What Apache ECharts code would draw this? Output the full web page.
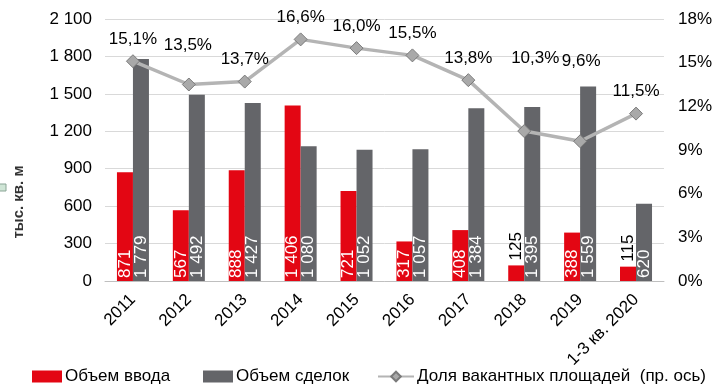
<!DOCTYPE html>
<html><head><meta charset="utf-8">
<script src="https://cdn.jsdelivr.net/npm/echarts@6/dist/echarts.min.js"></script>
<style>html,body{margin:0;padding:0;background:#fff}#c{width:715px;height:386px}</style>
</head><body><div id="c"></div>
<script>
const categories = ['2011','2012','2013','2014','2015','2016','2017','2018','2019','1-3 кв. 2020'];
const supplyVolume = [871, 567, 888, 1406, 721, 317, 408, 125, 388, 115];
const dealVolume = [1779, 1492, 1427, 1080, 1052, 1057, 1384, 1395, 1559, 620];
const vacancyRate = [15.1, 13.5, 13.7, 16.6, 16.0, 15.5, 13.8, 10.3, 9.6, 11.5];
const leftTicks = [0, 300, 600, 900, 1200, 1500, 1800, 2100];
const rightTicks = [0, 3, 6, 9, 12, 15, 18];

const FONT = 'Liberation Sans, Arial, sans-serif';
const FS = 17;
const fmtNum = v => String(v).replace(/\B(?=(\d{3})+(?!\d))/g, ' ');
const fmtPct = v => v.toFixed(1).replace('.', ',') + '%';

// label offsets (style only) for the vacancy labels
const pctLabelOffset = i => ({1: [-1, -39], 7: [11, -73], 8: [1, -80]}[i] || [0, -22]);

function barData(vals) {
  return vals.map(v => v < 200 ? {
    value: v,
    label: {position: 'top', color: '#000', distance: 5}
  } : v);
}
const barLabel = {
  show: true, position: 'insideBottom', rotate: 90, align: 'left', verticalAlign: 'middle',
  distance: 3, color: '#fff', fontSize: FS, fontFamily: FONT, formatter: p => fmtNum(p.value)
};
const legendText = {fontSize: FS, color: '#000', fontFamily: FONT, padding: [0, 0, 0, -2]};
const lineName = 'Доля вакантных площадей  (пр. ось)';
const legendBase = {top: 368, padding: 0, itemHeight: 12};

const chart = echarts.init(document.getElementById('c'));
chart.setOption({
  animation: false,
  textStyle: {fontFamily: FONT},
  grid: {left: 105, right: 49, top: 19, bottom: 105},
  graphic: [
    {type: 'text', x: 19, y: 202, rotation: Math.PI / 2,
     style: {text: 'тыс. кв. м', font: 'bold 15px ' + FONT, fill: '#333', textAlign: 'center', textVerticalAlign: 'middle'}},
    {type: 'rect', shape: {x: -1, y: 184, width: 7, height: 7},
     style: {fill: '#cfe5d6', stroke: '#8aa596', lineWidth: 1}}
  ],
  legend: [
    Object.assign({left: 32, itemWidth: 30, textStyle: legendText, data: [{name: 'Объем ввода', icon: 'rect'}]}, legendBase),
    Object.assign({left: 203, itemWidth: 30, textStyle: legendText, data: [{name: 'Объем сделок', icon: 'rect'}]}, legendBase),
    Object.assign({left: 377, itemWidth: 36, textStyle: legendText, data: [{name: lineName}]}, legendBase)
  ],
  xAxis: {
    type: 'category', data: categories,
    axisLine: {lineStyle: {color: '#bfbfbf', width: 1}},
    axisTick: {show: false},
    axisLabel: {rotate: 45, fontSize: FS, color: '#000', margin: 16, interval: 0}
  },
  yAxis: [{
    type: 'value', min: 0, max: 2100, interval: 300,
    axisLabel: {fontSize: FS, color: '#000', margin: 13, formatter: v => leftTicks.includes(v) ? fmtNum(v) : ''},
    splitLine: {lineStyle: {color: '#d9d9d9', width: 1}},
    axisLine: {show: false}, axisTick: {show: false}
  }, {
    type: 'value', min: 0, max: 18, interval: 3,
    axisLabel: {fontSize: FS, color: '#000', margin: 14, formatter: v => rightTicks.includes(v) ? v + '%' : ''},
    splitLine: {show: false}, axisLine: {show: false}, axisTick: {show: false}
  }],
  series: [{
    name: 'Объем ввода', type: 'bar', data: barData(supplyVolume),
    barWidth: 16, barGap: '0%', itemStyle: {color: '#e30613'}, label: barLabel
  }, {
    name: 'Объем сделок', type: 'bar', data: barData(dealVolume),
    barWidth: 16, barGap: '0%', itemStyle: {color: '#646569'}, label: barLabel
  }, {
    name: lineName, type: 'line', yAxisIndex: 1,
    data: vacancyRate.map((v, i) => ({value: v, label: {offset: pctLabelOffset(i)}})),
    symbol: 'diamond', symbolSize: 13,
    lineStyle: {color: '#b4b4b4', width: 3.5},
    itemStyle: {color: '#a9a9a9', borderColor: '#7a7a7a', borderWidth: 1},
    label: {show: true, position: 'inside', fontSize: FS, color: '#000', formatter: p => fmtPct(p.value)},
    z: 5
  }]
});
</script></body></html>
